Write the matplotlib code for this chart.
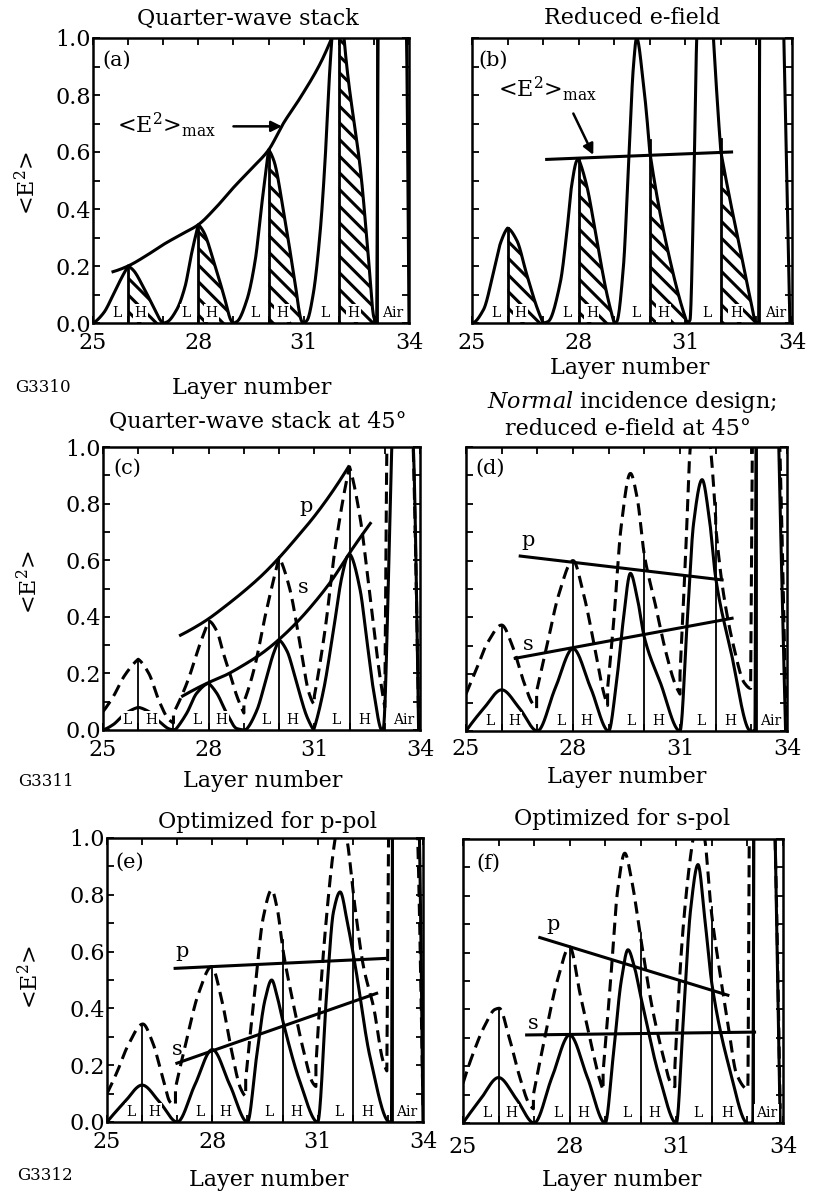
import numpy as np
import matplotlib
matplotlib.use("Agg")
import matplotlib.pyplot as plt

plt.rcParams["font.family"] = "DejaVu Serif"
plt.rcParams["mathtext.fontset"] = "dejavuserif"
plt.rcParams["hatch.linewidth"] = 2.2

W, H = 813, 1199

# knots (layer number, <E^2>).
# a repeated x value starts a new piece (cusp or jump at an interface)

# (a) quarter-wave stack
a_x = [25.0, 25.3, 25.58, 25.82, 26.0,
       26.0, 26.15, 26.43, 26.72, 26.95, 27.0,
       27.0, 27.1, 27.38, 27.62, 27.81, 28.0,
       28.0, 28.15, 28.43, 28.72, 28.95, 29.0,
       29.0, 29.1, 29.38, 29.62, 29.81, 30.0,
       30.0, 30.15, 30.43, 30.72, 30.95, 31.0,
       31.0, 31.1, 31.27, 31.47, 31.6, 31.75, 32.0,
       32.0, 32.15, 32.65, 32.83, 33.0, 33.08,
       33.08, 33.12, 33.5, 33.93, 34.0]
a_e2 = [0, 0.035, 0.10, 0.16, 0.20,
        0.20, 0.185, 0.127, 0.057, 0.005, 0,
        0, 0.003, 0.046, 0.127, 0.245, 0.345,
        0.345, 0.32, 0.22, 0.10, 0.005, 0,
        0, 0.005, 0.08, 0.22, 0.42, 0.607,
        0.607, 0.57, 0.39, 0.17, 0.005, 0,
        0, 0.01, 0.10, 0.32, 0.55, 0.90, 1.30,
        1.30, 1.0, 0.5, 0.25, 0.02, 0,
        0, 1.0, 3.0, 1.0, 0]
a_env_x = [25.57, 26.0, 26.5, 27.0, 27.5, 28.0, 28.5, 29.0, 29.5, 30.0, 30.42, 30.9, 31.47, 31.8]
a_env = [0.18, 0.20, 0.235, 0.275, 0.31, 0.345, 0.405, 0.475, 0.54, 0.607, 0.70, 0.79, 0.91, 1.0]

# (b) reduced e-field
b_x = [25.0, 25.32, 25.6, 25.8, 26.0,
       26.0, 26.26, 26.54, 26.82, 27.0,
       27.0, 27.14, 27.48, 27.66, 27.8, 27.95, 28.0,
       28.0, 28.23, 28.51, 28.79, 29.0,
       29.0, 29.07, 29.26, 29.4, 29.54, 29.63, 29.82, 30.0,
       30.0, 30.29, 30.57, 30.85, 31.05,
       31.05, 31.13, 31.23, 31.32, 31.55, 31.79, 32.0,
       32.0, 32.26, 32.54, 32.82, 33.0,
       33.06, 33.09, 33.4, 33.77, 33.94]
b_e2 = [0, 0.046, 0.175, 0.28, 0.333,
        0.333, 0.29, 0.17, 0.057, 0,
        0, 0.005, 0.14, 0.31, 0.48, 0.57, 0.575,
        0.575, 0.48, 0.29, 0.104, 0,
        0, 0.005, 0.2, 0.55, 0.9, 1.0, 0.84, 0.6,
        0.6, 0.385, 0.22, 0.08, 0,
        0, 0.01, 0.43, 1.0, 1.6, 1.0, 0.6,
        0.6, 0.43, 0.26, 0.09, 0,
        0, 1.0, 3.0, 1.0, 0]
b_env_x = [27.1, 32.3]
b_env = [0.574, 0.60]

# (c) quarter-wave stack at 45 deg
c_s_x = [25.0, 25.3, 25.6, 26.0,
         26.0, 26.3, 26.6, 26.9, 27.05,
         27.05, 27.38, 27.66, 28.0,
         28.0, 28.23, 28.51, 28.8, 29.05,
         29.05, 29.37, 29.65, 29.84, 30.0,
         30.0, 30.22, 30.5, 30.79, 30.98,
         30.98, 31.26, 31.54, 31.78, 31.95, 32.02,
         32.02, 32.3, 32.49, 32.68, 32.92,
         32.95, 33.2, 33.4, 33.81, 33.96]
c_s = [0, 0.02, 0.055, 0.08,
       0.08, 0.065, 0.03, 0.003, 0,
       0, 0.06, 0.13, 0.165,
       0.165, 0.13, 0.06, 0.005, 0,
       0, 0.07, 0.19, 0.27, 0.318,
       0.318, 0.28, 0.165, 0.047, 0,
       0, 0.14, 0.35, 0.54, 0.615, 0.62,
       0.62, 0.495, 0.318, 0.14, 0,
       0, 1.0, 1.6, 1.0, 0]
c_p_x = [25.0, 25.3, 25.6, 26.0,
         26.0, 26.3, 26.6, 26.85, 27.0,
         27.0, 27.38, 27.76, 28.0,
         28.0, 28.23, 28.42, 28.6, 28.8, 29.0,
         29.0, 29.3, 29.6, 30.0,
         30.0, 30.3, 30.6, 30.85, 31.0,
         31.0, 31.3, 31.6, 32.0,
         32.0, 32.3, 32.6, 32.85, 33.0,
         33.0, 33.06, 33.4, 33.81, 33.96]
c_p = [0.065, 0.12, 0.19, 0.25,
       0.25, 0.2, 0.1, 0.04, 0.025,
       0.06, 0.165, 0.306, 0.385,
       0.385, 0.35, 0.27, 0.2, 0.12, 0.06,
       0.1, 0.22, 0.4, 0.61,
       0.61, 0.5, 0.3, 0.13, 0.09,
       0.12, 0.35, 0.65, 0.93,
       0.93, 0.75, 0.45, 0.2, 0.08,
       0.08, 1.0, 2.5, 1.0, 0.05]
c_penv_x = [27.2, 27.5, 27.95, 28.5, 29.0, 29.5, 29.98, 30.5, 31.0, 31.5, 31.97]
c_penv = [0.335, 0.355, 0.389, 0.44, 0.49, 0.545, 0.606, 0.68, 0.755, 0.84, 0.93]
c_senv_x = [27.26, 27.95, 28.5, 29.0, 29.5, 29.98, 30.5, 31.0, 31.5, 31.97, 32.59]
c_senv = [0.12, 0.165, 0.195, 0.23, 0.27, 0.318, 0.38, 0.45, 0.53, 0.62, 0.73]

# (d) normal incidence design at 45 deg
d_s_x = [25.0, 25.5, 26.0, 26.5, 27.0,
         27.5, 28.0, 28.5, 29.0,
         29.2, 29.4, 29.61, 29.8, 30.0, 30.45, 31.0,
         31.2, 31.38, 31.62, 31.82, 32.0, 32.42, 32.98,
         33.1, 33.13, 33.45, 33.77, 33.96]
d_s = [0, 0.08, 0.145, 0.08, 0,
       0.15, 0.29, 0.15, 0,
       0.15, 0.38, 0.555, 0.47, 0.33, 0.17, 0,
       0.38, 0.73, 0.885, 0.75, 0.54, 0.285, 0,
       0, 1.0, 3.0, 1.0, 0]
d_p_x = [25.0, 25.3, 25.6, 26.0, 26.3, 26.6, 26.85, 26.98,
         26.98, 27.27, 27.6, 28.0, 28.3, 28.6, 28.85, 28.97,
         28.97, 29.15, 29.35, 29.61, 29.8, 30.0, 30.3, 30.6, 30.85, 31.0,
         31.0, 31.15, 31.29, 31.57, 31.85, 32.0,
         32.0, 32.2, 32.5, 32.8, 32.98,
         32.98, 33.03, 33.4, 33.8, 33.97]
d_p = [0.13, 0.22, 0.31, 0.373, 0.3, 0.18, 0.1, 0.08,
       0.14, 0.3, 0.48, 0.6, 0.48, 0.3, 0.14, 0.09,
       0.15, 0.4, 0.72, 0.907, 0.82, 0.62, 0.45, 0.28, 0.17, 0.13,
       0.2, 0.6, 1.0, 1.2, 1.0, 0.75,
       0.72, 0.5, 0.3, 0.17, 0.15,
       0.15, 1.0, 2.5, 1.0, 0.05]
d_penv_x = [26.52, 32.18]
d_penv = [0.616, 0.532]
d_senv_x = [26.38, 32.46]
d_senv = [0.256, 0.397]

# (e) optimized for p-pol
e_s_x = [25.0, 25.5, 26.0, 26.5, 27.0,
         27.5, 28.0, 28.5, 29.0,
         29.26, 29.5, 29.69, 29.85, 30.02, 30.5, 31.0,
         31.26, 31.45, 31.64, 31.85, 32.07, 32.49, 33.05,
         33.1, 33.13, 33.5, 33.9, 34.0]
e_s = [0, 0.07, 0.13, 0.07, 0,
       0.13, 0.255, 0.13, 0,
       0.23, 0.43, 0.5, 0.44, 0.35, 0.14, 0,
       0.46, 0.74, 0.81, 0.7, 0.55, 0.23, 0,
       0, 1.0, 3.0, 1.0, 0]
e_p_x = [25.0, 25.3, 25.6, 26.02, 26.3, 26.6, 26.8, 26.95,
         26.95, 27.25, 27.6, 27.98, 28.25, 28.55, 28.8, 28.95,
         28.95, 29.2, 29.45, 29.69, 29.85, 30.02, 30.3, 30.6, 30.85, 30.95,
         30.95, 31.2, 31.5, 31.66, 31.83, 32.07, 32.3, 32.6, 32.85, 32.97,
         32.97, 33.02, 33.4, 33.85, 34.0]
e_p = [0.1, 0.18, 0.27, 0.345, 0.28, 0.15, 0.07, 0.06,
       0.12, 0.28, 0.45, 0.547, 0.44, 0.25, 0.12, 0.09,
       0.15, 0.45, 0.72, 0.817, 0.75, 0.6, 0.42, 0.25, 0.14, 0.125,
       0.2, 0.65, 1.0, 1.1, 1.0, 0.75, 0.55, 0.4, 0.22, 0.18,
       0.18, 1.0, 2.5, 1.0, 0.05]
e_penv_x = [26.94, 32.92]
e_penv = [0.541, 0.576]
e_senv_x = [26.99, 32.68]
e_senv = [0.207, 0.453]

# (f) optimized for s-pol
f_s_x = [25.0, 25.5, 26.0, 26.5, 27.0,
         27.5, 28.0, 28.5, 29.0,
         29.22, 29.45, 29.64, 29.82, 30.0, 30.53, 31.0,
         31.19, 31.4, 31.61, 31.8, 32.0, 32.5, 33.0,
         33.15, 33.18, 33.5, 33.78, 33.92]
f_s = [0, 0.085, 0.16, 0.085, 0,
       0.16, 0.31, 0.16, 0,
       0.23, 0.5, 0.61, 0.55, 0.445, 0.16, 0,
       0.35, 0.75, 0.91, 0.72, 0.49, 0.19, 0,
       0, 1.0, 3.0, 1.0, 0]
f_p_x = [25.0, 25.3, 25.6, 25.9, 26.02, 26.3, 26.6, 26.85, 26.98,
         26.98, 27.3, 27.65, 28.0, 28.3, 28.6, 28.85, 28.94,
         28.94, 29.15, 29.35, 29.55, 29.75, 30.0, 30.3, 30.6, 30.85, 30.96,
         30.96, 31.2, 31.47, 31.63, 31.8, 31.98, 32.2, 32.45, 32.7, 33.0,
         33.01, 33.05, 33.4, 33.78, 33.92]
f_p = [0.14, 0.25, 0.34, 0.4, 0.404, 0.3, 0.16, 0.07, 0.05,
       0.1, 0.3, 0.5, 0.62, 0.45, 0.28, 0.15, 0.116,
       0.18, 0.5, 0.82, 0.95, 0.85, 0.65, 0.42, 0.25, 0.14, 0.128,
       0.2, 0.7, 1.0, 1.1, 1.0, 0.75, 0.55, 0.35, 0.17, 0.12,
       0.12, 1.0, 2.5, 1.0, 0.05]
f_penv_x = [27.16, 32.45]
f_penv = [0.653, 0.45]
f_senv_x = [26.79, 33.2]
f_senv = [0.31, 0.32]

# layer structure
lh_bounds = [26, 28, 30, 32]          # L|H interfaces
h_layers = [26, 28, 30, 32]           # start of each H layer (hatched in a, b)
layer_names = ["L", "H", "L", "H", "L", "H", "L", "H", "Air"]
layer_label_x = [25.68, 26.36, 27.66, 28.37, 29.62, 30.38, 31.6, 32.42, 33.53]
air_edge = {"a": 33.08, "b": 33.06, "c": None, "d": 33.12, "e": 33.11, "f": 33.15}


def _end_slope(h0, h1, d0, d1):
    m = ((2 * h0 + h1) * d0 - h0 * d1) / (h0 + h1)
    if np.sign(m) != np.sign(d0):
        return 0.0
    if np.sign(d0) != np.sign(d1) and abs(m) > 3 * abs(d0):
        return 3 * d0
    return m


def pchip(x, y, n=40):
    x = np.asarray(x, float)
    y = np.asarray(y, float)
    h = np.diff(x)
    d = np.diff(y) / h
    m = np.zeros_like(y)
    if len(x) == 2:
        m[:] = d[0]
    else:
        for k in range(1, len(x) - 1):
            if d[k - 1] * d[k] > 0:
                w1 = 2 * h[k] + h[k - 1]
                w2 = h[k] + 2 * h[k - 1]
                m[k] = (w1 + w2) / (w1 / d[k - 1] + w2 / d[k])
        m[0] = _end_slope(h[0], h[1], d[0], d[1])
        m[-1] = _end_slope(h[-1], h[-2], d[-1], d[-2])
    t = np.linspace(0, 1, n)
    h00 = 2 * t**3 - 3 * t**2 + 1
    h10 = t**3 - 2 * t**2 + t
    h01 = -2 * t**3 + 3 * t**2
    h11 = t**3 - t**2
    xs, ys = [], []
    for k in range(len(h)):
        xs.append(x[k] + t * h[k])
        ys.append(h00 * y[k] + h10 * h[k] * m[k] + h01 * y[k + 1] + h11 * h[k] * m[k + 1])
    return np.concatenate(xs), np.concatenate(ys)


def smooth(xs, ys):
    cuts = [i for i in range(1, len(xs)) if xs[i] == xs[i - 1]]
    bounds = [0] + cuts + [len(xs)]
    X, Y = [], []
    for i0, i1 in zip(bounds[:-1], bounds[1:]):
        px, py = pchip(xs[i0:i1], ys[i0:i1])
        X.append(px)
        Y.append(py)
    return np.concatenate(X), np.concatenate(Y)


def top_at(xb, curves):
    v = 0
    for X, Y in curves:
        sel = np.abs(X - xb) < 0.03
        if sel.any():
            v = max(v, Y[sel].max())
    return min(v, 1.0)


fig = plt.figure(figsize=(W / 100, H / 100), dpi=100)


def fx(x):
    return x / W


def fy(y):
    return 1 - y / H


def add_panel(x0, y0, x1, y1):
    return fig.add_axes([x0 / W, 1 - y1 / H, (x1 - x0) / W, (y1 - y0) / H])


layout = {
    "a": dict(rect=(93, 38, 409, 323), ylab=True, pad=6.2, letter=(25.27, 0.923)),
    "b": dict(rect=(472, 38, 792, 323), ylab=False, pad=6.2, letter=(25.17, 0.923)),
    "c": dict(rect=(103, 447, 420, 730), ylab=True, pad=6.4, letter=(25.29, 0.926)),
    "d": dict(rect=(466, 447, 787, 731), ylab=False, pad=5.0, letter=(25.25, 0.926)),
    "e": dict(rect=(107, 838, 423, 1122), ylab=True, pad=6.4, letter=(25.23, 0.915)),
    "f": dict(rect=(463, 839, 783, 1123), ylab=False, pad=9.4, letter=(25.38, 0.915)),
}

LW = 2.2
DASH = (0, (4, 2.2))
axes = {}
for key, cfg in layout.items():
    ax = add_panel(*cfg["rect"])
    axes[key] = ax
    ax.set_xlim(25, 34)
    ax.set_ylim(0, 1.0)
    ax.set_xticks([25, 28, 31, 34])
    ax.set_xticklabels(["25", "28", "31", "34"])
    ax.set_xticks(range(25, 35), minor=True)
    ax.set_yticks(np.arange(0, 1.01, 0.2))
    ax.set_yticks(np.arange(0, 1.01, 0.1), minor=True)
    if cfg["ylab"]:
        ax.set_yticklabels(["%.1f" % v for v in np.arange(0, 1.01, 0.2)])
    else:
        ax.set_yticklabels([])
    ax.tick_params(which="both", direction="in", top=True, right=True,
                   length=5, width=1.3, labelsize=16)
    ax.tick_params(axis="x", which="both", pad=cfg["pad"])
    ax.tick_params(axis="y", which="both", pad=1.5)
    for sp in ax.spines.values():
        sp.set_linewidth(1.8)
    ax.text(cfg["letter"][0], cfg["letter"][1], "(%s)" % key, fontsize=15,
            ha="left", va="center")
    for name, lx in zip(layer_names, layer_label_x):
        ax.text(lx, 0.035, name, fontsize=10, ha="center", va="center", zorder=6,
                bbox=dict(boxstyle="square,pad=0.12", fc="white", ec="none"))
    if air_edge[key] is not None:
        ax.axvline(air_edge[key], color="k", lw=2.0)

# (a) and (b): single field curve with hatched H layers
for key, xs, ys in [("a", a_x, a_e2), ("b", b_x, b_e2)]:
    ax = axes[key]
    X, Y = smooth(xs, ys)
    ax.plot(X, Y, color="k", lw=LW, solid_joinstyle="round")
    for s in h_layers:
        sel = (X >= s) & (X <= s + 1.08)
        ax.fill_between(X[sel], 0, np.minimum(Y[sel], 1.0), hatch="\\\\",
                        facecolor="none", edgecolor="k", linewidth=0)
    for xb in lh_bounds:
        ax.plot([xb, xb], [0, top_at(xb, [(X, Y)])], color="k", lw=2.0)

ax = axes["a"]
X, Y = smooth(a_env_x, a_env)
ax.plot(X, Y, color="k", lw=LW)
ax.text(25.68, 0.667, r"<E$^2$>$_{\rm max}$", fontsize=16, ha="left", va="baseline")
ax.annotate("", xy=(30.38, 0.69), xytext=(29.0, 0.69),
            arrowprops=dict(arrowstyle="-|>", color="k", lw=1.8, mutation_scale=16,
                            shrinkA=0, shrinkB=0))

ax = axes["b"]
X, Y = smooth(b_env_x, b_env)
ax.plot(X, Y, color="k", lw=LW)
ax.text(25.74, 0.794, r"<E$^2$>$_{\rm max}$", fontsize=16, ha="left", va="baseline")
ax.annotate("", xy=(28.41, 0.59), xytext=(27.85, 0.735),
            arrowprops=dict(arrowstyle="-|>", color="k", lw=1.8, mutation_scale=16,
                            shrinkA=0, shrinkB=0))

# (c)-(f): s-pol solid, p-pol dashed, with fitted max lines
pol_sets = {
    "c": (c_s_x, c_s, c_p_x, c_p, c_penv_x, c_penv, c_senv_x, c_senv),
    "d": (d_s_x, d_s, d_p_x, d_p, d_penv_x, d_penv, d_senv_x, d_senv),
    "e": (e_s_x, e_s, e_p_x, e_p, e_penv_x, e_penv, e_senv_x, e_senv),
    "f": (f_s_x, f_s, f_p_x, f_p, f_penv_x, f_penv, f_senv_x, f_senv),
}
ps_label_pos = {
    "c": ((30.77, 0.79), (30.68, 0.505)),
    "d": ((26.73, 0.67), (26.74, 0.303)),
    "e": ((27.13, 0.60), (27.0, 0.254)),
    "f": ((27.53, 0.70), (26.97, 0.35)),
}
for key, (sx, sy, px_, py_, pex, pey, sex, sey) in pol_sets.items():
    ax = axes[key]
    XS, YS = smooth(sx, sy)
    XP, YP = smooth(px_, py_)
    ax.plot(XS, YS, color="k", lw=LW, solid_joinstyle="round")
    ax.plot(XP, YP, color="k", lw=LW, linestyle=DASH)
    for xb in lh_bounds:
        ax.plot([xb, xb], [0, top_at(xb, [(XS, YS), (XP, YP)])], color="k", lw=1.3)
    X, Y = smooth(pex, pey)
    ax.plot(X, Y, color="k", lw=LW)
    X, Y = smooth(sex, sey)
    ax.plot(X, Y, color="k", lw=LW)
    (ppx, ppy), (ssx, ssy) = ps_label_pos[key]
    ax.text(ppx, ppy, "p", fontsize=15, ha="center", va="center")
    ax.text(ssx, ssy, "s", fontsize=15, ha="center", va="center")

# titles and labels
titles = [("Quarter-wave stack", 248, 19), ("Reduced e-field", 632, 18),
          ("Quarter-wave stack at 45°", 258, 422),
          (r"$\mathit{Normal}$ incidence design;", 632, 402),
          ("reduced e-field at 45°", 628, 429),
          ("Optimized for p-pol", 268, 822), ("Optimized for s-pol", 622, 819)]
for txt, x, y in titles:
    fig.text(fx(x), fy(y), txt, fontsize=16, ha="center", va="center")

for x, y in [(252, 388), (630, 368), (263, 781), (627, 777), (269, 1180), (622, 1180)]:
    fig.text(fx(x), fy(y), "Layer number", fontsize=16, ha="center", va="center")

for x, y in [(28, 183), (30, 582), (31, 977)]:
    fig.text(fx(x), fy(y), r"<E$^2$>", fontsize=16, ha="center", va="center", rotation=90)

for txt, x, y in [("G3310", 43, 388), ("G3311", 46, 781), ("G3312", 45, 1175)]:
    fig.text(fx(x), fy(y), txt, fontsize=12, ha="center", va="center")

fig.savefig("out.png", dpi=100, facecolor="white")
